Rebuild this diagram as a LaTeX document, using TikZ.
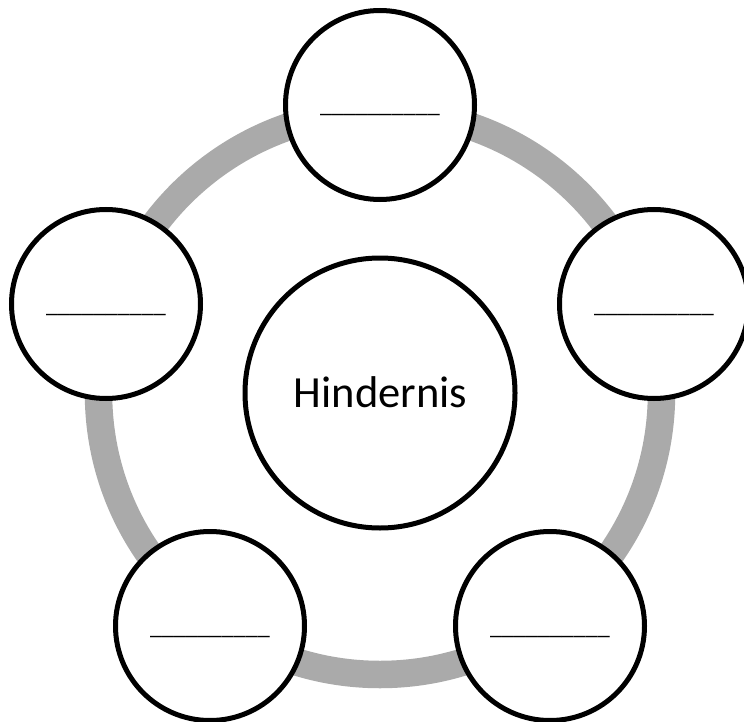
\documentclass[tikz,border=0pt]{standalone}
\usepackage{fontspec}
\setmainfont{Carlito}
\definecolor{ringgray}{RGB}{170,170,170}
\begin{document}
\begin{tikzpicture}[x=1pt,y=-1pt,
  outer/.style={circle, draw=black, line width=5pt, fill=white, minimum size=189pt, inner sep=0pt},
  inner/.style={circle, draw=black, line width=5pt, fill=white, minimum size=270pt, inner sep=0pt},
  blank/.style={anchor=base, inner sep=0pt, font=\fontsize{24}{28}\selectfont},
  ring/.style={draw=ringgray, line width=27.5pt}
  ]
\useasboundingbox (0,0) rectangle (744,722);
\coordinate (mid) at (380,393);
\draw[ring] (mid) circle[radius=281.5];
\node[inner] (hub) at (mid) {};
\node[anchor=base, inner sep=0pt, font=\fontsize{44.5}{50}\selectfont] (hubtext) at (380.5,407) {Hindernis};
\node[outer] (c1) at (380,105) {};
\node[outer] (c2) at (106,304) {};
\node[outer] (c3) at (654,304) {};
\node[outer] (c4) at (210,626) {};
\node[outer] (c5) at (550,626) {};
\foreach \c in {c1,c2,c3,c4,c5}{
  \node[blank] (\c t) at ([yshift=-8pt]\c.center) {\_\_\_\_\_\_\_\_\_\_};
}
\end{tikzpicture}
\end{document}
